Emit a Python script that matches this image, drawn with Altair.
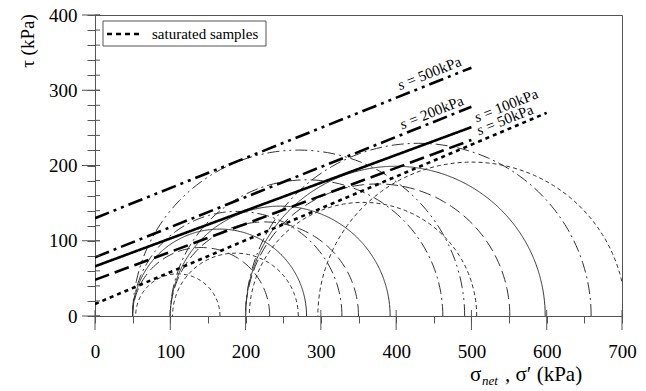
import altair as alt
import pandas as pd

# ---------------- data ----------------
# failure envelopes: intercept (sigma=0) and end point
env_names = ["s500", "s200", "s100", "s50", "sat"]
env_c = [130, 78, 66, 48, 16]
env_end_x = [500, 500, 500, 500, 600]
env_end_y = [330, 278, 251, 234, 270]

# Mohr circles: group, sigma3, sigma1
circ_group = ["sat", "sat", "sat", "sat",
              "s50", "s50", "s50",
              "s100", "s100", "s100",
              "s200", "s200", "s200",
              "s500"]
circ_s3 = [54, 103, 205, 296, 50, 100, 200, 50, 100, 200, 50, 100, 200, 50]
circ_s1 = [166, 270, 507, 705, 232, 350, 551, 281, 392, 598, 328, 462, 659, 491]

# envelope labels
lab_rest = ["= 500kPa", "= 200kPa", "= 100kPa", "= 50kPa"]
lab_x = [405, 408, 507, 510]
lab_y = [300, 248, 257, 240]

x_ticks = list(range(0, 701, 50))
x_major = list(range(0, 701, 100))
y_ticks = list(range(0, 401, 20))
y_major = list(range(0, 401, 100))

W, H = 527, 301
FONT = "'Liberation Serif', 'Times New Roman', Times, 'DejaVu Serif', serif"
GRAY = "#555"

xs = alt.Scale(domain=[0, 700], nice=False, zero=False)
ys = alt.Scale(domain=[0, 400], nice=False, zero=False)
xaxis = alt.Axis(values=x_ticks, tickSize=7, title=None,
                 labelExpr="datum.value % 100 === 0 ? datum.label : ''",
                 labelPadding=19, labelOverlap=False, labelFlush=False, grid=False)
yaxis = alt.Axis(values=y_ticks, tickSize=8, title=None,
                 labelExpr="datum.value % 100 === 0 ? datum.label : ''",
                 labelPadding=10, labelOverlap=False, labelFlush=False, grid=False)
X = alt.X("x:Q", scale=xs, axis=xaxis)
Y = alt.Y("y:Q", scale=ys, axis=yaxis)

# ---------------- circles ----------------
circ_df = pd.DataFrame({"grp": circ_group, "s3": circ_s3, "s1": circ_s1})
circ_df["id"] = range(len(circ_df))
circ_df["t"] = [list(range(0, 181, 2)) for _ in range(len(circ_df))]

circ_base = alt.Chart(circ_df).transform_flatten(["t"]).transform_calculate(
    x="(datum.s3 + datum.s1) / 2 + (datum.s1 - datum.s3) / 2 * cos(datum.t * PI / 180)",
    y="(datum.s1 - datum.s3) / 2 * sin(datum.t * PI / 180)",
)

circ_dash = {"sat": [4, 3], "s50": [12, 5], "s100": [1, 0],
             "s200": [12, 4, 2, 4], "s500": [12, 4, 2, 4, 2, 4]}
circ_layers = []
for g, d in circ_dash.items():
    circ_layers.append(
        circ_base.transform_filter(alt.datum.grp == g)
        .mark_line(stroke="#333", strokeWidth=1, strokeDash=d, clip=True)
        .encode(x=X, y=Y, detail="id:N", order="t:Q")
    )

# ---------------- envelopes ----------------
env_rows = []
for n, c, ex, ey in zip(env_names, env_c, env_end_x, env_end_y):
    env_rows.append({"name": n, "x": 0, "y": c, "o": 0})
    env_rows.append({"name": n, "x": ex, "y": ey, "o": 1})
env_df = pd.DataFrame(env_rows)

env_dash = {"s500": [15, 5, 3, 5, 3, 5], "s200": [15, 5, 3, 5], "s100": [1, 0],
            "s50": [15, 6], "sat": [4, 4]}
env_layers = []
for n, d in env_dash.items():
    env_layers.append(
        alt.Chart(env_df).transform_filter(alt.datum.name == n)
        .mark_line(stroke="black", strokeWidth=2.6, strokeDash=d, clip=True)
        .encode(x=X, y=Y, order="o:Q")
    )

# ---------------- labels on envelopes ----------------
lab_df = pd.DataFrame({"x": lab_x, "y": lab_y, "rest": lab_rest, "s": ["s"] * 4})
lab_s = alt.Chart(lab_df).mark_text(
    font=FONT, fontSize=15, fontStyle="italic", align="left", baseline="alphabetic",
    angle=338.2
).encode(x=X, y=Y, text="s:N")
lab_r = alt.Chart(lab_df).mark_text(
    font=FONT, fontSize=15, align="left", baseline="alphabetic", angle=338.2, dx=10
).encode(x=X, y=Y, text="rest:N")

# ---------------- crossing ticks ----------------
ytick_in = alt.Chart(pd.DataFrame({"y": y_ticks})).mark_rule(
    color=GRAY, strokeWidth=1).encode(y=Y, x=alt.value(0), x2=alt.value(5))
ytick_major = alt.Chart(pd.DataFrame({"y": y_major})).mark_rule(
    color=GRAY, strokeWidth=1).encode(y=Y, x=alt.value(-13), x2=alt.value(5))
xtick_major = alt.Chart(pd.DataFrame({"x": x_major})).mark_rule(
    color=GRAY, strokeWidth=1).encode(x=X, y=alt.value(H - 6), y2=alt.value(H + 14))

# ---------------- legend ----------------
one = pd.DataFrame({"a": [0]})
leg_box = alt.Chart(one).mark_rect(fill="white", stroke=GRAY, strokeWidth=1).encode(
    x=alt.value(8), x2=alt.value(171), y=alt.value(6), y2=alt.value(31))
leg_line = alt.Chart(one).mark_rule(color="black", strokeWidth=2.6, strokeDash=[5, 4]).encode(
    x=alt.value(12), x2=alt.value(44), y=alt.value(19))
leg_text = alt.Chart(one).mark_text(font=FONT, fontSize=15, align="left",
                                    baseline="alphabetic").encode(
    x=alt.value(57), y=alt.value(24), text=alt.value("saturated samples"))

# ---------------- axis titles ----------------
ytitle = alt.Chart(one).mark_text(font=FONT, fontSize=19, angle=270, align="center",
                                  baseline="middle").encode(
    x=alt.value(-67), y=alt.value(26), text=alt.value("τ (kPa)"))
xt1 = alt.Chart(one).mark_text(font=FONT, fontSize=21, align="left",
                               baseline="alphabetic").encode(
    x=alt.value(375), y=alt.value(366), text=alt.value("σ"))
xt2 = alt.Chart(one).mark_text(font=FONT, fontSize=13, fontStyle="italic", align="left",
                               baseline="alphabetic").encode(
    x=alt.value(387), y=alt.value(370), text=alt.value("net"))
xt3 = alt.Chart(one).mark_text(font=FONT, fontSize=21, align="left",
                               baseline="alphabetic").encode(
    x=alt.value(410), y=alt.value(366), text=alt.value(", σ′ (kPa)"))

chart = alt.layer(
    *circ_layers, *env_layers, lab_s, lab_r,
    ytick_in, ytick_major, xtick_major,
    leg_box, leg_line, leg_text, ytitle, xt1, xt2, xt3
).properties(
    width=W, height=H,
    padding={"left": 95, "top": 15, "right": 24, "bottom": 75},
    autosize=alt.AutoSizeParams(type="none"),
    background="white",
).configure_view(stroke=GRAY, strokeWidth=1).configure_axis(
    labelFont=FONT, labelFontSize=19, labelColor="black",
    domainColor=GRAY, tickColor=GRAY, domainWidth=1, tickWidth=1,
)

chart.save("out.html", embed_options={"renderer": "svg", "actions": False})
